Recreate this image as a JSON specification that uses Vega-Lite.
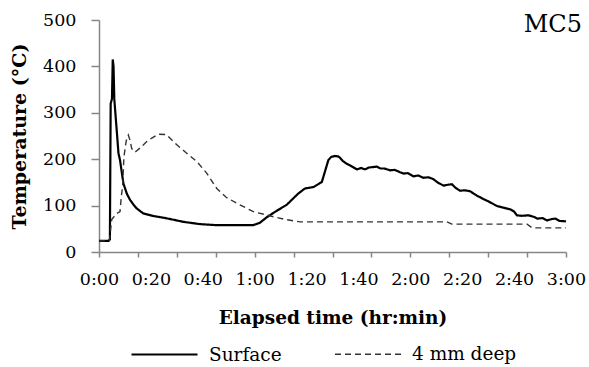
{
  "$schema": "https://vega.github.io/schema/vega-lite/v6.json",
  "width": 467,
  "height": 232,
  "autosize": {"type": "none"},
  "padding": {"left": 99, "top": 20, "right": 23, "bottom": 115},
  "background": "white",
  "config": {
    "view": {"stroke": null},
    "font": "DejaVu Serif",
    "axis": {"grid": false, "domainColor": "#868686", "tickColor": "#868686", "labelColor": "black", "titleColor": "black", "labelFont": "DejaVu Serif", "titleFont": "DejaVu Serif", "labelOverlap": false, "labelFlush": false},
    "legend": {"labelFont": "DejaVu Serif"},
    "text": {"font": "DejaVu Serif"}
  },
  "datasets": {
    "surface": [
      {"t": 0, "T": 24, "series": "Surface"},
      {"t": 3.6, "T": 24, "series": "Surface"},
      {"t": 4.2, "T": 27, "series": "Surface"},
      {"t": 4.5, "T": 320, "series": "Surface"},
      {"t": 5.0, "T": 330, "series": "Surface"},
      {"t": 5.3, "T": 415, "series": "Surface"},
      {"t": 5.6, "T": 400, "series": "Surface"},
      {"t": 5.9, "T": 330, "series": "Surface"},
      {"t": 6.3, "T": 300, "series": "Surface"},
      {"t": 7.0, "T": 250, "series": "Surface"},
      {"t": 7.5, "T": 213, "series": "Surface"},
      {"t": 8.1, "T": 198, "series": "Surface"},
      {"t": 8.7, "T": 175, "series": "Surface"},
      {"t": 9.4, "T": 148, "series": "Surface"},
      {"t": 10.7, "T": 126, "series": "Surface"},
      {"t": 12, "T": 112, "series": "Surface"},
      {"t": 13.3, "T": 102, "series": "Surface"},
      {"t": 14.5, "T": 94, "series": "Surface"},
      {"t": 17.1, "T": 83, "series": "Surface"},
      {"t": 20.9, "T": 77.6, "series": "Surface"},
      {"t": 26.1, "T": 72.6, "series": "Surface"},
      {"t": 32.5, "T": 65, "series": "Surface"},
      {"t": 39, "T": 60, "series": "Surface"},
      {"t": 45, "T": 58, "series": "Surface"},
      {"t": 50, "T": 58, "series": "Surface"},
      {"t": 55, "T": 58, "series": "Surface"},
      {"t": 59.5, "T": 58, "series": "Surface"},
      {"t": 62, "T": 63, "series": "Surface"},
      {"t": 64.7, "T": 75, "series": "Surface"},
      {"t": 68, "T": 87, "series": "Surface"},
      {"t": 72.4, "T": 102, "series": "Surface"},
      {"t": 76.8, "T": 126, "series": "Surface"},
      {"t": 79.4, "T": 137, "series": "Surface"},
      {"t": 82.7, "T": 140, "series": "Surface"},
      {"t": 85.9, "T": 151, "series": "Surface"},
      {"t": 88.4, "T": 198, "series": "Surface"},
      {"t": 89.5, "T": 205, "series": "Surface"},
      {"t": 91, "T": 207, "series": "Surface"},
      {"t": 92.2, "T": 206, "series": "Surface"},
      {"t": 92.9, "T": 203, "series": "Surface"},
      {"t": 94, "T": 196, "series": "Surface"},
      {"t": 95.5, "T": 190, "series": "Surface"},
      {"t": 97, "T": 186, "series": "Surface"},
      {"t": 98.5, "T": 181, "series": "Surface"},
      {"t": 99.4, "T": 178, "series": "Surface"},
      {"t": 101, "T": 181, "series": "Surface"},
      {"t": 102.5, "T": 178, "series": "Surface"},
      {"t": 104, "T": 182, "series": "Surface"},
      {"t": 105.5, "T": 183, "series": "Surface"},
      {"t": 107.1, "T": 184, "series": "Surface"},
      {"t": 108.5, "T": 180, "series": "Surface"},
      {"t": 110, "T": 180, "series": "Surface"},
      {"t": 112.2, "T": 176, "series": "Surface"},
      {"t": 114, "T": 177, "series": "Surface"},
      {"t": 116, "T": 172, "series": "Surface"},
      {"t": 117.4, "T": 169, "series": "Surface"},
      {"t": 119, "T": 170, "series": "Surface"},
      {"t": 121.2, "T": 163, "series": "Surface"},
      {"t": 123, "T": 165, "series": "Surface"},
      {"t": 125, "T": 160, "series": "Surface"},
      {"t": 127, "T": 161, "series": "Surface"},
      {"t": 128.9, "T": 157, "series": "Surface"},
      {"t": 130.5, "T": 150, "series": "Surface"},
      {"t": 132.8, "T": 143, "series": "Surface"},
      {"t": 134.5, "T": 145, "series": "Surface"},
      {"t": 136, "T": 146, "series": "Surface"},
      {"t": 137.5, "T": 138, "series": "Surface"},
      {"t": 139.2, "T": 132, "series": "Surface"},
      {"t": 141, "T": 133, "series": "Surface"},
      {"t": 143, "T": 131, "series": "Surface"},
      {"t": 145.5, "T": 122, "series": "Surface"},
      {"t": 148.2, "T": 114, "series": "Surface"},
      {"t": 150.5, "T": 108, "series": "Surface"},
      {"t": 153.4, "T": 99, "series": "Surface"},
      {"t": 155.5, "T": 96, "series": "Surface"},
      {"t": 158.5, "T": 92, "series": "Surface"},
      {"t": 160, "T": 87, "series": "Surface"},
      {"t": 161.1, "T": 79, "series": "Surface"},
      {"t": 163, "T": 78, "series": "Surface"},
      {"t": 165.5, "T": 79, "series": "Surface"},
      {"t": 167.5, "T": 76, "series": "Surface"},
      {"t": 169, "T": 72, "series": "Surface"},
      {"t": 171, "T": 73, "series": "Surface"},
      {"t": 172.7, "T": 68, "series": "Surface"},
      {"t": 174.5, "T": 71, "series": "Surface"},
      {"t": 175.9, "T": 72, "series": "Surface"},
      {"t": 177.5, "T": 67, "series": "Surface"},
      {"t": 180, "T": 66, "series": "Surface"}
    ],
    "deep": [
      {"t": 0, "T": 24, "series": "4 mm deep"},
      {"t": 4.0, "T": 24, "series": "4 mm deep"},
      {"t": 4.9, "T": 70, "series": "4 mm deep"},
      {"t": 6.8, "T": 83, "series": "4 mm deep"},
      {"t": 8.1, "T": 87, "series": "4 mm deep"},
      {"t": 8.6, "T": 120, "series": "4 mm deep"},
      {"t": 9.1, "T": 141, "series": "4 mm deep"},
      {"t": 9.6, "T": 205, "series": "4 mm deep"},
      {"t": 10.5, "T": 240, "series": "4 mm deep"},
      {"t": 11.3, "T": 252, "series": "4 mm deep"},
      {"t": 12.0, "T": 240, "series": "4 mm deep"},
      {"t": 12.6, "T": 223, "series": "4 mm deep"},
      {"t": 13.9, "T": 215, "series": "4 mm deep"},
      {"t": 16, "T": 225, "series": "4 mm deep"},
      {"t": 18.4, "T": 238, "series": "4 mm deep"},
      {"t": 20.5, "T": 246, "series": "4 mm deep"},
      {"t": 22.9, "T": 254, "series": "4 mm deep"},
      {"t": 26, "T": 253, "series": "4 mm deep"},
      {"t": 30, "T": 231, "series": "4 mm deep"},
      {"t": 33.8, "T": 213, "series": "4 mm deep"},
      {"t": 37.7, "T": 195, "series": "4 mm deep"},
      {"t": 41.5, "T": 170, "series": "4 mm deep"},
      {"t": 45.4, "T": 137, "series": "4 mm deep"},
      {"t": 49, "T": 118, "series": "4 mm deep"},
      {"t": 53.1, "T": 105, "series": "4 mm deep"},
      {"t": 59.5, "T": 87, "series": "4 mm deep"},
      {"t": 67.2, "T": 76, "series": "4 mm deep"},
      {"t": 72, "T": 70, "series": "4 mm deep"},
      {"t": 77.5, "T": 65, "series": "4 mm deep"},
      {"t": 134, "T": 65, "series": "4 mm deep"},
      {"t": 136, "T": 60, "series": "4 mm deep"},
      {"t": 165, "T": 60, "series": "4 mm deep"},
      {"t": 167, "T": 52, "series": "4 mm deep"},
      {"t": 180, "T": 52, "series": "4 mm deep"}
    ],
    "label": [
      {"t": 180, "T": 475, "text": "MC5"}
    ]
  },
  "layer": [
    {
      "data": {"name": "surface"},
      "mark": {"type": "line", "strokeJoin": "miter"},
      "encoding": {
        "x": {"field": "t", "type": "quantitative", "scale": {"domain": [0, 180], "nice": false, "zero": false},
          "axis": {"orient": "bottom", "values": [0, 15, 30, 45, 60, 75, 90, 105, 120, 135, 150, 165, 180], "labels": false, "title": null, "tickSize": 5, "domainWidth": 1.5, "tickWidth": 1.5}},
        "y": {"field": "T", "type": "quantitative", "scale": {"domain": [0, 500], "nice": false},
          "axis": {"values": [0, 100, 200, 300, 400, 500], "tickSize": 8, "labelPadding": 15, "labelFontSize": 17.5, "domainWidth": 1.5, "tickWidth": 1.5,
            "title": "Temperature (°C)", "titleFontSize": 19, "titleFontWeight": "bold", "titleX": -70, "titleBaseline": "bottom", "titleAngle": -90}},
        "color": {"field": "series", "type": "nominal", "scale": {"domain": ["Surface", "4 mm deep"], "range": ["#000000", "#333333"]},
          "legend": {"orient": "none", "legendX": 31, "legendY": 300, "direction": "horizontal", "title": null, "symbolType": "stroke", "symbolSize": 4356, "labelFontSize": 18.5, "labelColor": "black", "labelOffset": 10, "columnPadding": 50, "padding": 0}},
        "strokeDash": {"field": "series", "type": "nominal", "scale": {"domain": ["Surface", "4 mm deep"], "range": [[1, 0], [6, 4]]},
          "legend": {"orient": "none", "legendX": 31, "legendY": 300, "direction": "horizontal", "title": null, "symbolType": "stroke", "symbolSize": 4356, "labelFontSize": 18.5, "labelColor": "black", "labelOffset": 10, "columnPadding": 50, "padding": 0}},
        "strokeWidth": {"field": "series", "type": "nominal", "scale": {"domain": ["Surface", "4 mm deep"], "range": [2.2, 1.4]},
          "legend": {"orient": "none", "legendX": 31, "legendY": 300, "direction": "horizontal", "title": null, "symbolType": "stroke", "symbolSize": 4356, "labelFontSize": 18.5, "labelColor": "black", "labelOffset": 10, "columnPadding": 50, "padding": 0}}
      }
    },
    {
      "data": {"name": "deep"},
      "mark": {"type": "line"},
      "encoding": {
        "x": {"field": "t", "type": "quantitative",
          "axis": {"orient": "bottom", "values": [0, 20, 40, 60, 80, 100, 120, 140, 160, 180], "ticks": false, "tickSize": 0, "domain": false, "labelPadding": 18, "labelFontSize": 17.5, "labelBaseline": "top", "labelOverlap": false, "labelFlush": false,
            "labelExpr": "floor(datum.value / 60) + ':' + (datum.value % 60 < 10 ? '0' : '') + (datum.value % 60)",
            "title": "Elapsed time (hr:min)", "titleFontSize": 18.5, "titleFontWeight": "bold", "titleBaseline": "alphabetic", "titleY": 71}},
        "y": {"field": "T", "type": "quantitative"},
        "color": {"field": "series", "type": "nominal"},
        "strokeDash": {"field": "series", "type": "nominal"},
        "strokeWidth": {"field": "series", "type": "nominal"}
      }
    },
    {
      "data": {"name": "label"},
      "mark": {"type": "text", "align": "right", "baseline": "alphabetic", "dx": 16, "fontSize": 24, "color": "black", "font": "DejaVu Serif"},
      "encoding": {
        "x": {"field": "t", "type": "quantitative", "axis": {"orient": "bottom", "labels": false, "ticks": false, "domain": false, "title": null, "grid": false}},
        "y": {"field": "T", "type": "quantitative"},
        "text": {"field": "text"}
      }
    }
  ],
  "resolve": {"axis": {"x": "independent"}}
}
